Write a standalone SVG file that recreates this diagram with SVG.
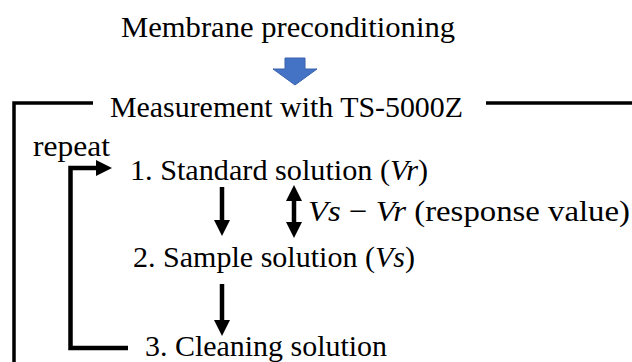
<svg xmlns="http://www.w3.org/2000/svg" width="632" height="362" viewBox="0 0 632 362">
  <style>
    .t { font-family: 'Liberation Serif', 'DejaVu Serif', serif; font-size: 30px; fill: #000; }
    .m { font-style: italic; }
    .frame { fill: none; stroke: #000; stroke-width: 3.5; }
    .conn { fill: none; stroke: #000; stroke-width: 4.5; }
  </style>
  <defs>
    <marker id="head" markerUnits="userSpaceOnUse" markerWidth="17" markerHeight="17" refX="0" refY="8" orient="auto-start-reverse" viewBox="0 0 17 16">
      <path d="M0,0 L16,8 L0,16 z" fill="#000"/>
    </marker>
  </defs>
  <rect width="632" height="362" fill="#fff"/>

  <g id="precond">
    <text class="t" x="121" y="37" textLength="334" lengthAdjust="spacingAndGlyphs">Membrane preconditioning</text>
  </g>

  <g id="measurement">
    <polyline class="frame" points="93,103 14,103 14,364"/>
    <line class="frame" x1="486" y1="103" x2="634" y2="103"/>
    <text class="t" x="110" y="117" textLength="353" lengthAdjust="spacingAndGlyphs">Measurement with TS-5000Z</text>
  </g>

  <g id="repeat">
    <text class="t" x="33" y="156" textLength="77" lengthAdjust="spacingAndGlyphs">repeat</text>
  </g>

  <g id="step1">
    <text class="t" x="130" y="180" textLength="298" lengthAdjust="spacingAndGlyphs">1. Standard solution (<tspan class="m">Vr</tspan>)</text>
  </g>

  <g id="response">
    <text class="t" x="308" y="221" textLength="322" lengthAdjust="spacingAndGlyphs"><tspan class="m">Vs</tspan> − <tspan class="m">Vr</tspan> (response value)</text>
  </g>

  <g id="step2">
    <text class="t" x="133" y="267" textLength="282" lengthAdjust="spacingAndGlyphs">2. Sample solution (<tspan class="m">Vs</tspan>)</text>
  </g>

  <g id="step3">
    <text class="t" x="145" y="356" textLength="242" lengthAdjust="spacingAndGlyphs">3. Cleaning solution</text>
  </g>

  <g id="connectors">
    <path d="M285,58 L305,58 L305,69 L317,69 L295,85 L273,69 L285,69 Z" fill="#4472C4" stroke="#3A63AD" stroke-width="1"/>
    <line class="conn" x1="222" y1="187" x2="222" y2="220" marker-end="url(#head)"/>
    <line class="conn" x1="294" y1="201" x2="294" y2="222" marker-start="url(#head)" marker-end="url(#head)"/>
    <line class="conn" x1="222" y1="284" x2="222" y2="320" marker-end="url(#head)"/>
    <polyline class="conn" points="128,348 70.5,348 70.5,168 96,168" marker-end="url(#head)"/>
  </g>
</svg>
